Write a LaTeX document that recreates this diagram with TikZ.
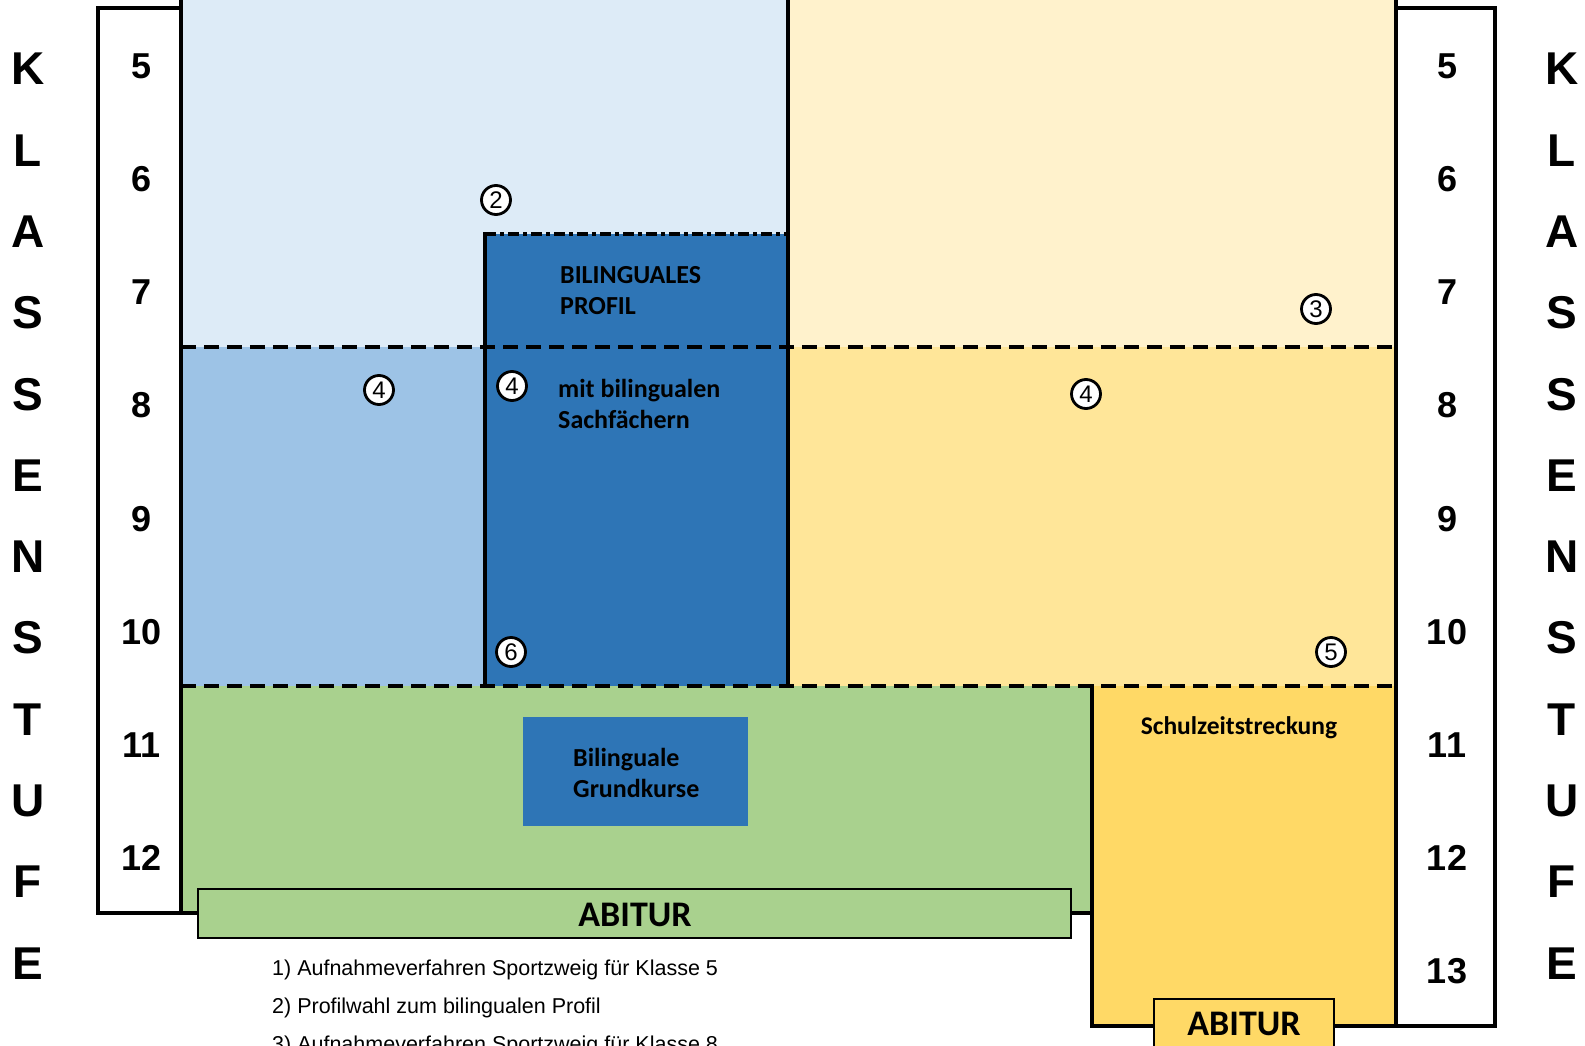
\documentclass[tikz,border=0pt]{standalone}
\usepackage{fontspec}
\setmainfont{Liberation Sans}
\newfontfamily\carl{Carlito}
\definecolor{lblue}{HTML}{DDEBF7}
\definecolor{mblue}{HTML}{9DC3E6}
\definecolor{dblue}{HTML}{2E75B6}
\definecolor{lyel}{HTML}{FFF2CC}
\definecolor{myel}{HTML}{FFE699}
\definecolor{dyel}{HTML}{FFD966}
\definecolor{grn}{HTML}{A9D18E}
\tikzset{
  solidln/.style={line width=4pt, line cap=rect},
  dashln/.style={line width=4pt, dash pattern=on 15pt off 8pt},
  dashdotln/.style={line width=4pt, dash pattern=on 11pt off 4pt on 4pt off 4pt},
  numtxt/.style={font=\fontsize{36}{36}\selectfont\bfseries, inner sep=0pt},
  lettertxt/.style={font=\fontsize{46}{46}\selectfont\bfseries, inner sep=0pt},
  boxtxt/.style={font=\carl\bfseries\fontsize{26}{31}\selectfont, align=left, inner sep=0pt},
  circ/.style={circle, draw, line width=2.8pt, fill=white, minimum size=29pt, inner sep=0pt, font=\fontsize{24}{24}\selectfont},
  foot/.style={font=\fontsize{21.5}{21.5}\selectfont, inner sep=0pt, anchor=base west},
  abibox/.style={draw, line width=2pt, inner sep=0pt}
}
\begin{document}
\begin{tikzpicture}[x=1pt,y=-1pt]
\useasboundingbox (0,0) rectangle (1585,1046);
\begin{scope}
\clip (0,0) rectangle (1585,1046);
% fills
\fill[lblue] (181,-5) rectangle (788,347);
\fill[mblue] (181,347) rectangle (485,686);
\fill[dblue] (485,234) rectangle (788,686);
\fill[lyel] (788,-5) rectangle (1396,347);
\fill[myel] (788,347) rectangle (1396,686);
\fill[grn] (181,686) rectangle (1092,913);
\fill[dyel] (1092,686) rectangle (1396,1026);
% solid lines
\draw[solidln] (181,-5) -- (181,913) -- (1092,913);
\draw[solidln] (788,-5) -- (788,686);
\draw[solidln] (485,234) -- (485,686);
\draw[solidln] (1396,-5) -- (1396,1026) -- (1092,1026) -- (1092,686);
% dashed lines
\draw[dashln] (181,347) -- (1396,347);
\draw[dashln] (181,686) -- (1396,686);
\draw[dashdotln] (485,234) -- (788,234);
% number boxes
\draw[solidln] (181,8) -- (98,8) -- (98,913) -- (181,913);
\draw[solidln] (1396,8) -- (1495,8) -- (1495,1026) -- (1396,1026);
% inner boxes
\node[fill=dblue, minimum width=225pt, minimum height=109pt, inner sep=0pt] (bgk) at (635.5,771.5) {};
\node[abibox, fill=grn, minimum width=873pt, minimum height=49pt] (abig) at (634.5,913.5) {};
\node[abibox, fill=dyel, minimum width=180pt, minimum height=70pt] (abiy) at (1244,1034) {};
\node[font=\carl\bfseries\fontsize{36}{36}\selectfont, inner sep=0pt] (abigt) at (635,915) {ABITUR};
\node[font=\carl\bfseries\fontsize{36}{36}\selectfont, inner sep=0pt] (abiyt) at (1244,1024) {ABITUR};
% box texts
\node[boxtxt, anchor=west] (bilprof) at (560,291) {BILINGUALES\\PROFIL};
\node[boxtxt, anchor=west] (bilsach) at (558,404) {mit bilingualen\\Sachfächern};
\node[boxtxt, anchor=west] (bilgk) at (573,773) {Bilinguale\\Grundkurse};
\node[font=\carl\bfseries\fontsize{25.5}{25.5}\selectfont, inner sep=0pt] (szs) at (1239,728) {Schulzeitstreckung};
% circles
\node[circ] (c2) at (496,200) {2};
\node[circ] (c3) at (1316,309) {3};
\node[circ] (c4a) at (379,390) {4};
\node[circ] (c4b) at (512,386) {4};
\node[circ] (c4c) at (1086,394) {4};
\node[circ] (c6) at (511,652) {6};
\node[circ] (c5) at (1331,652) {5};
% numbers
\foreach \n [count=\i from 0] in {5,6,7,8,9,10,11,12} {
  \node[numtxt] (ln\n) at (141.5,66+113.2*\i) {\n};
}
\foreach \n [count=\i from 0] in {5,6,7,8,9,10,11,12,13} {
  \node[numtxt] (rn\n) at (1447,66+113.2*\i) {\n};
}
% letters
\foreach \l [count=\i from 0] in {K,L,A,S,S,E,N,S,T,U,F,E} {
  \node[lettertxt] (kl\i) at (28,69+81.3*\i) {\l};
  \node[lettertxt] (kr\i) at (1562,69+81.3*\i) {\l};
}
% footnotes
\node[foot] (f1) at (272,975) {1) Aufnahmeverfahren Sportzweig für Klasse 5};
\node[foot] (f2) at (272,1013) {2) Profilwahl zum bilingualen Profil};
\node[foot] (f3) at (272,1051) {3) Aufnahmeverfahren Sportzweig für Klasse 8};
\end{scope}
\end{tikzpicture}
\end{document}
